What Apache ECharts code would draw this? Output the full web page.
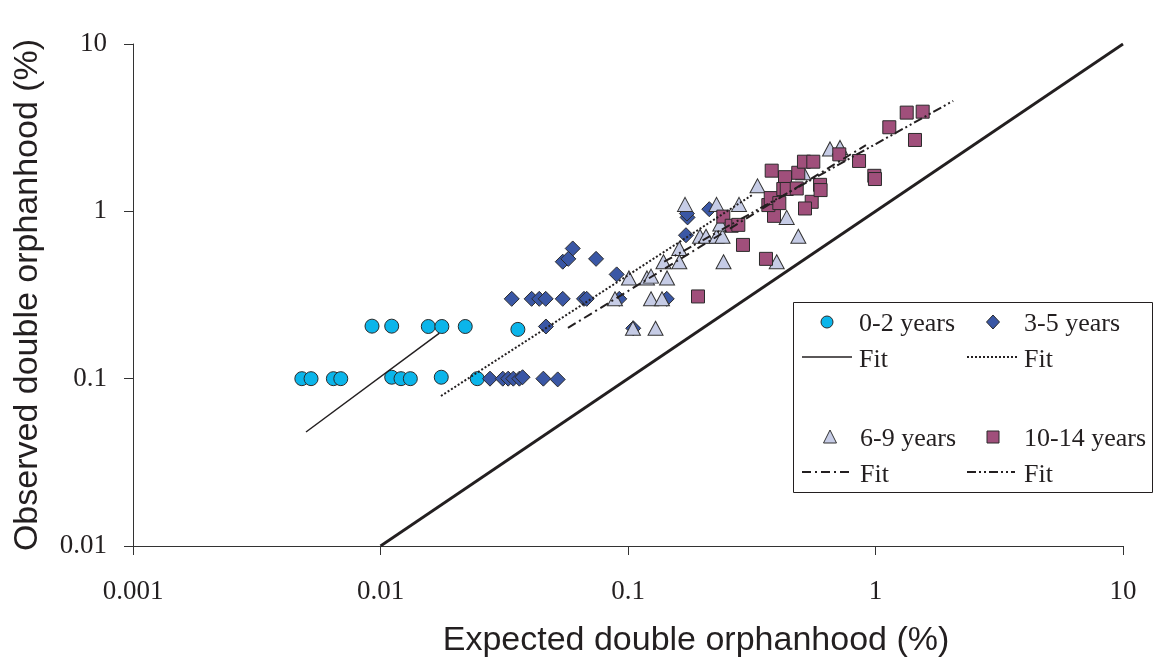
<!DOCTYPE html>
<html><head><meta charset="utf-8">
<script src="https://cdn.jsdelivr.net/npm/echarts@6/dist/echarts.min.js"></script>
<style>html,body{margin:0;padding:0;background:#fff}#c{width:1159px;height:667px}</style>
</head><body><div id="c"></div><script>
const xTickLabels = ['0.001','0.01','0.1','1','10'];
const yTickLabels = ['0.01','0.1','1','10'];

const age02 = [[0.00481,0.1],[0.00524,0.1],[0.00645,0.1],[0.00691,0.1],[0.0111,0.102],[0.0121,0.1],[0.0132,0.1],[0.0176,0.102],[0.0246,0.1],
  [0.00924,0.206],[0.0111,0.206],[0.0156,0.205],[0.0177,0.205],[0.0220,0.205],[0.0359,0.197]];
const age35 = [[0.0277,0.1],[0.0312,0.1],[0.0328,0.1],[0.0344,0.1],[0.0364,0.1],[0.0375,0.102],[0.0455,0.1],[0.0520,0.099],
  [0.0339,0.3],[0.0408,0.3],[0.0438,0.3],[0.0465,0.3],[0.0545,0.3],[0.0664,0.3],[0.0681,0.3],[0.0922,0.3],[0.1434,0.3],
  [0.0466,0.205],[0.105,0.2],
  [0.0598,0.6],[0.0545,0.5],[0.0574,0.52],[0.0743,0.52],[0.090,0.42],[0.1715,0.72],[0.174,0.92],[0.173,0.97],[0.213,1.03]];
const age69 = [[0.1009,0.4],[0.1193,0.4],[0.1239,0.41],[0.1438,0.4],
  [0.0886,0.3],[0.1239,0.3],[0.1372,0.3],
  [0.1047,0.2],[0.1292,0.2],
  [0.1612,0.6],[0.1612,0.5],[0.1391,0.5],[0.2432,0.5],[0.3989,0.5],
  [0.1954,0.71],[0.2066,0.71],[0.2279,0.71],[0.2409,0.71],[0.4878,0.71],[0.236,0.84],
  [0.1700,1.1],[0.2279,1.1],[0.2809,1.1],
  [0.3337,1.42],[0.4378,0.92],[0.5108,1.7],[0.6549,2.36],[0.7188,2.41]];
const age1014 = [[0.1918,0.31],[0.2915,0.63],[0.361,0.52],[0.2427,0.93],[0.2624,0.82],[0.2791,0.83],
  [0.3807,1.75],[0.4309,1.60],[0.4875,1.70],[0.514,1.98],[0.5607,1.98],[0.389,0.94],[0.369,1.09],[0.3773,1.20],
  [0.4241,1.36],[0.438,1.36],[0.4805,1.37],[0.4087,1.12],[0.5524,1.14],[0.519,1.04],[0.597,1.44],[0.600,1.34],
  [0.714,2.19],[0.858,2.0],[0.989,1.63],[0.995,1.56],[1.137,3.18],[1.337,3.89],[1.551,3.94],[1.444,2.67]];

const fit02 = [[0.0050,0.048],[0.0173,0.187]];
const fit35 = [[0.01755,0.0788],[0.317,1.25]];
const fit69 = [[0.0572,0.201],[0.915,2.49]];
const fit1014 = [[0.14,0.50],[2.06,4.57]];
const identity = [[0.01,0.01],[10,10]];

const ink = '#231f20';
const border = '#2b2b2b';
const cCircle = '#0BB5EA', cDiamond = '#3A57A5', cTri = '#C6CCE6', cSq = '#A04F7B';
const dashDot = [9,4,2,4];
const dashDotDot = [9,3,2,3,2,3];

function lbl(list){
  return v => { const m = list.find(t => Math.abs(Math.log10(+t) - Math.log10(v)) < 1e-6); return m || ''; };
}
const chart = echarts.init(document.getElementById('c'), null, {renderer:'canvas'});
const serif = '"Liberation Serif", "Times New Roman", serif';
const sans = '"Liberation Sans", Arial, sans-serif';
function lineSeries(data, type, width){
  return {type:'line', data, showSymbol:false, symbol:'none', silent:true, z:5,
    lineStyle:{color:ink, width, type}};
}
chart.setOption({
  animation:false,
  backgroundColor:'#fff',
  grid:{left:133, right:36, top:44, bottom:121, containLabel:false},
  xAxis:{type:'log', logBase:10, min:0.001, max:10,
    name:'Expected double orphanhood (%)', nameLocation:'middle', nameGap:78,
    nameTextStyle:{fontFamily:sans, fontSize:34, color:ink, padding:[0,0,0,136]},
    axisLine:{lineStyle:{color:'#333', width:1}},
    axisTick:{show:true, length:9, inside:false, lineStyle:{color:'#333'}},
    minorTick:{show:false}, splitLine:{show:false},
    axisLabel:{formatter:lbl(xTickLabels), fontFamily:serif, fontSize:27, color:ink, margin:32}},
  yAxis:{type:'log', logBase:10, min:0.01, max:10,
    name:'Observed double orphanhood (%)', nameLocation:'middle', nameGap:88,
    nameTextStyle:{fontFamily:sans, fontSize:34, color:ink},
    axisLine:{show:true, lineStyle:{color:'#333', width:1}},
    axisTick:{show:true, length:9, inside:false, lineStyle:{color:'#333'}},
    minorTick:{show:false}, splitLine:{show:false},
    axisLabel:{formatter:lbl(yTickLabels), fontFamily:serif, fontSize:27, color:ink, margin:26}},
  series:[
    {type:'scatter', name:'0-2 years', data:age02, symbol:'circle', symbolSize:14,
      itemStyle:{color:cCircle, borderColor:border, borderWidth:1, opacity:1}},
    {type:'scatter', name:'3-5 years', data:age35, symbol:'diamond', symbolSize:15,
      itemStyle:{color:cDiamond, borderColor:border, borderWidth:1, opacity:1}},
    {type:'scatter', name:'6-9 years', data:age69, symbol:'triangle', symbolSize:[15,14],
      itemStyle:{color:cTri, borderColor:'#333', borderWidth:1, opacity:1}},
    {type:'scatter', name:'10-14 years', data:age1014, symbol:'rect', symbolSize:13,
      itemStyle:{color:cSq, borderColor:border, borderWidth:1, opacity:1}},
    lineSeries(fit02,'solid',1.5),
    lineSeries(fit35,[2,2],2),
    lineSeries(fit69,dashDot,2),
    lineSeries(fit1014,dashDotDot,2),
    lineSeries(identity,'solid',2.8)
  ],
  graphic:[
    {type:'rect', z:100, shape:{x:793.5,y:302.5,width:359,height:190}, style:{fill:'#fff', stroke:ink, lineWidth:1}},
    {type:'circle', z:101, shape:{cx:827,cy:322,r:6}, style:{fill:cCircle, stroke:border, lineWidth:1}},
    {type:'text', z:101, style:{text:'0-2 years', x:859, y:324, font:'26px '+serif, fill:ink, verticalAlign:'middle'}},
    {type:'polygon', z:101, shape:{points:[[993,315],[999.5,322],[993,329],[986.5,322]]}, style:{fill:cDiamond, stroke:border, lineWidth:1}},
    {type:'text', z:101, style:{text:'3-5 years', x:1024, y:324, font:'26px '+serif, fill:ink, verticalAlign:'middle'}},
    {type:'line', z:101, shape:{x1:802,y1:357,x2:852,y2:357}, style:{stroke:ink, lineWidth:1.5}},
    {type:'text', z:101, style:{text:'Fit', x:859, y:360, font:'26px '+serif, fill:ink, verticalAlign:'middle'}},
    {type:'line', z:101, shape:{x1:967,y1:357,x2:1019,y2:357}, style:{stroke:ink, lineWidth:1.8, lineDash:[2,2]}},
    {type:'text', z:101, style:{text:'Fit', x:1024, y:360, font:'26px '+serif, fill:ink, verticalAlign:'middle'}},
    {type:'polygon', z:101, shape:{points:[[830,430],[836.5,443],[823.5,443]]}, style:{fill:cTri, stroke:'#333', lineWidth:1}},
    {type:'text', z:101, style:{text:'6-9 years', x:860, y:439, font:'26px '+serif, fill:ink, verticalAlign:'middle'}},
    {type:'rect', z:101, shape:{x:987,y:431,width:12,height:12}, style:{fill:cSq, stroke:border, lineWidth:1}},
    {type:'text', z:101, style:{text:'10-14 years', x:1024, y:439, font:'26px '+serif, fill:ink, verticalAlign:'middle'}},
    {type:'line', z:101, shape:{x1:802,y1:472,x2:852,y2:472}, style:{stroke:ink, lineWidth:1.8, lineDash:dashDot}},
    {type:'text', z:101, style:{text:'Fit', x:860, y:475, font:'26px '+serif, fill:ink, verticalAlign:'middle'}},
    {type:'line', z:101, shape:{x1:967,y1:472,x2:1015,y2:472}, style:{stroke:ink, lineWidth:1.8, lineDash:dashDotDot}},
    {type:'text', z:101, style:{text:'Fit', x:1024, y:475, font:'26px '+serif, fill:ink, verticalAlign:'middle'}}
  ]
});
</script></body></html>
